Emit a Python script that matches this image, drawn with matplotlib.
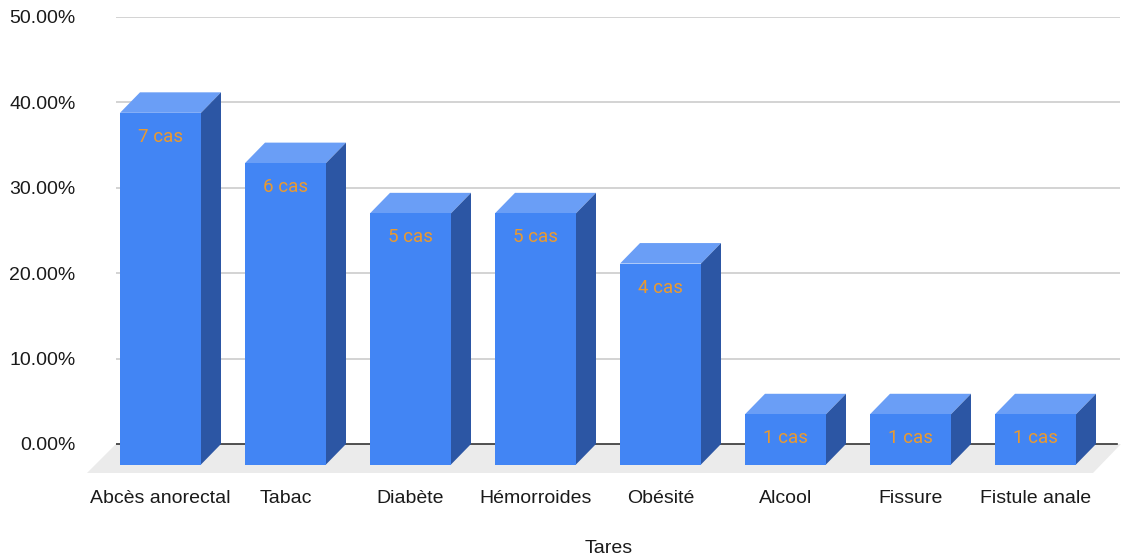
"""Comorbidity bar chart with a pseudo-3D look."""

import matplotlib

matplotlib.use("Agg")
import matplotlib.pyplot as plt
from matplotlib.patches import Polygon, Rectangle

categories = [
    "Abcès anorectal", "Tabac", "Diabète", "Hémorroides",
    "Obésité", "Alcool", "Fissure", "Fistule anale",
]
cases = [7, 6, 5, 5, 4, 1, 1, 1]
percent = [41.18, 35.29, 29.41, 29.41, 23.53, 5.88, 5.88, 5.88]
y_ticks = [0, 10, 20, 30, 40, 50]
y_tick_labels = ["0.00%", "10.00%", "20.00%", "30.00%", "40.00%", "50.00%"]

FRONT = "#4285f4"
TOP = "#6a9ef6"
SIDE = "#2c56a4"
LABEL = "#eb9a2e"
FLOOR = "#ebebeb"
TEXT = "#1a1a1a"

W, H = 1122, 557
fig = plt.figure(figsize=(W / 100, H / 100), dpi=100)
ax = fig.add_axes([116 / W, 1 - 480 / H, 1004 / W, 463 / H])

px_x = 125.0          # pixels per category
px_y = 427.0 / 50     # pixels per percent
x_lo = (116 - 180.5) / px_x
ax.set_xlim(x_lo, x_lo + 1004 / px_x)
ax.set_ylim(-36 / px_y, 50)

width = 81 / px_x
dx = 20 / px_x        # depth offset, horizontal
dy = 20.5 / px_y      # depth offset, vertical

# floor
fl = [(x_lo, 0), ((1121 - 180.5) / px_x, 0),
      ((1093 - 180.5) / px_x, -29 / px_y), ((87 - 180.5) / px_x, -29 / px_y)]
ax.add_patch(Polygon(fl, closed=True, facecolor=FLOOR, edgecolor="none",
                     zorder=1, clip_on=False))

for v in y_ticks[1:]:
    ax.axhline(v, color="#cccccc", linewidth=1.2, zorder=0)
ax.plot([x_lo, (1117 - 180.5) / px_x], [0, 0], color="#333333", linewidth=1.2, zorder=2)

for i, (v, n) in enumerate(zip(percent, cases)):
    x0 = i - width / 2 - dx
    y0 = -dy
    ax.add_patch(Rectangle((x0, y0), width, v, facecolor=FRONT, edgecolor="none", zorder=4))
    top = [(x0, y0 + v), (x0 + width, y0 + v), (x0 + width + dx, v), (x0 + dx, v)]
    ax.add_patch(Polygon(top, closed=True, facecolor=TOP, edgecolor="none", zorder=3))
    side = [(x0 + width, y0), (x0 + width + dx, 0), (x0 + width + dx, v), (x0 + width, y0 + v)]
    ax.add_patch(Polygon(side, closed=True, facecolor=SIDE, edgecolor="none", zorder=3))
    ax.text(x0 + width / 2, y0 + v - 24 / px_y, f"{n} cas", ha="center", va="center",
            color=LABEL, fontsize=13.5, family="Roboto", zorder=5)

ax.set_xticks([i - dx for i in range(len(categories))])
ax.set_xticklabels(categories, fontsize=14, family="Liberation Sans", color=TEXT)
ax.set_yticks(y_ticks)
ax.set_yticklabels(y_tick_labels, fontsize=14, family="Liberation Sans", color=TEXT)
ax.tick_params(axis="x", length=0, pad=7.5)
ax.tick_params(axis="y", length=0, pad=29)
for s in ax.spines.values():
    s.set_visible(False)

fig.text(609 / W, 1 - 548.5 / H, "Tares", ha="center", va="center",
         fontsize=14, family="Liberation Sans", color=TEXT)

fig.savefig("out.png", dpi=100)
plt.close(fig)
